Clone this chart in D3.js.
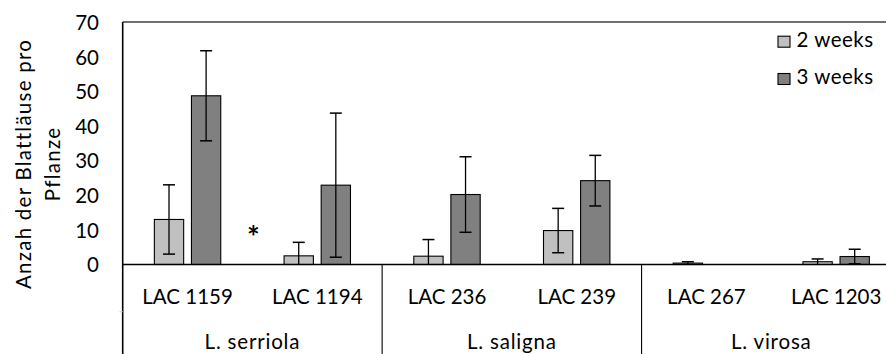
<!DOCTYPE html>
<html>
<head>
<meta charset="utf-8">
<script src="https://cdn.jsdelivr.net/npm/d3@7"></script>
<style>
  html, body { margin: 0; padding: 0; background: #fff; }
  svg { display: block; }
  text { font-family: Lato, "Open Sans", sans-serif; fill: #000; }
</style>
</head>
<body>
<svg id="chart" width="886" height="354"></svg>
<script>
// ---- data ----
const categories = ["LAC 1159", "LAC 1194", "LAC 236", "LAC 239", "LAC 267", "LAC 1203"];
const groups = ["L. serriola", "L. saligna", "L. virosa"];
const groupSizes = [2, 2, 2];
const seriesNames = ["2 weeks", "3 weeks"];
const week2 = [13.0, 2.5, 2.4, 9.8, 0.4, 0.8];
const week2Err = [10.0, 3.9, 4.8, 6.4, 0.4, 0.8];
const week3 = [48.7, 22.9, 20.2, 24.2, 0.0, 2.3];
const week3Err = [13.0, 20.8, 10.9, 7.3, 0.0, 2.1];
const yTicks = [0, 10, 20, 30, 40, 50, 60, 70];
const annotation = { text: "*", between: ["LAC 1159", "LAC 1194"], value: 10 };

// ---- layout ----
const FS = 20.5;
const plotLeft = 122.7, plotRight = 901, plotTop = 22, zeroY = 264.5, plotBottom = 354;
const colors = ["#C0C0C0", "#808080"];

const svg = d3.select("#chart");

const y = d3.scaleLinear().domain([0, 70]).range([zeroY, plotTop]);
const x0 = d3.scaleBand().domain(categories).range([plotLeft, plotRight]).padding(0);
const innerW = 66.4;
const x1 = d3.scaleBand().domain(seriesNames).range([0, innerW]).paddingInner(0.21).paddingOuter(0);

const seriesVals = [week2, week3];
const seriesErr = [week2Err, week3Err];

// frame
svg.append("line").attr("x1", plotLeft).attr("x2", 886).attr("y1", plotTop).attr("y2", plotTop)
  .attr("stroke", "#404040").attr("stroke-width", 1.3);

// bars
seriesNames.forEach((s, si) => {
  const data = categories.map((c, i) => ({ c, v: seriesVals[si][i], e: seriesErr[si][i] }));
  const g = svg.append("g");
  g.selectAll("rect").data(data.filter(d => d.v > 0)).join("rect")
    .attr("x", d => x0(d.c) + x0.bandwidth() / 2 - innerW / 2 + x1(s))
    .attr("width", x1.bandwidth())
    .attr("y", d => y(d.v))
    .attr("height", d => y(0) - y(d.v))
    .attr("fill", colors[si])
    .attr("stroke", "#000").attr("stroke-width", 1.1);
  // error bars
  const eb = g.selectAll("g.eb").data(data.filter(d => d.e > 0)).join("g").attr("class", "eb");
  const cx = d => x0(d.c) + x0.bandwidth() / 2 - innerW / 2 + x1(s) + x1.bandwidth() / 2;
  const lo = d => Math.max(0, d.v - d.e);
  const hi = d => d.v + d.e;
  eb.append("line").attr("x1", cx).attr("x2", cx).attr("y1", d => y(lo(d))).attr("y2", d => y(hi(d)))
    .attr("stroke", "#000").attr("stroke-width", 1.3);
  eb.append("line").attr("x1", d => cx(d) - 6).attr("x2", d => cx(d) + 6)
    .attr("y1", d => y(hi(d))).attr("y2", d => y(hi(d)))
    .attr("stroke", "#000").attr("stroke-width", 1.5);
  eb.filter(d => d.v - d.e > 0).append("line").attr("x1", d => cx(d) - 6).attr("x2", d => cx(d) + 6)
    .attr("y1", d => y(lo(d))).attr("y2", d => y(lo(d)))
    .attr("stroke", "#000").attr("stroke-width", 1.5);
});

// zero axis line
svg.append("line").attr("x1", plotLeft).attr("x2", 886).attr("y1", zeroY).attr("y2", zeroY)
  .attr("stroke", "#000").attr("stroke-width", 1.6);
// left border
svg.append("line").attr("x1", plotLeft).attr("x2", plotLeft).attr("y1", plotTop).attr("y2", plotBottom)
  .attr("stroke", "#000").attr("stroke-width", 1.6);

// y axis tick labels
const yAxis = d3.axisLeft(y).tickValues(yTicks).tickSize(0).tickPadding(0);
const ya = svg.append("g").attr("transform", `translate(99,0)`).call(yAxis);
ya.select(".domain").remove();
ya.selectAll("text").attr("font-size", FS).attr("font-family", "Lato").attr("fill", "#000").attr("dy", "0.36em");

// x category labels
const xAxis = d3.axisBottom(x0).tickSize(0).tickPadding(0);
const xa = svg.append("g").call(xAxis);
xa.select(".domain").remove();
xa.selectAll("text").attr("font-size", FS).attr("font-family", "Lato").attr("fill", "#000")
  .attr("y", 304).attr("dy", 0);

// group dividers and labels
let idx = 0;
groups.forEach((gname, gi) => {
  const first = categories[idx], last = categories[idx + groupSizes[gi] - 1];
  const gx0 = x0(first), gx1 = x0(last) + x0.bandwidth();
  if (gi > 0) {
    svg.append("line").attr("x1", gx0).attr("x2", gx0).attr("y1", zeroY).attr("y2", plotBottom)
      .attr("stroke", "#000").attr("stroke-width", 1.1);
  }
  svg.append("text").attr("x", (gx0 + gx1) / 2).attr("y", 349).attr("text-anchor", "middle")
    .attr("font-size", FS).attr("letter-spacing", 0.8).text(gname);
  idx += groupSizes[gi];
});
// faint multi-level tick
svg.append("line").attr("x1", 119.5).attr("x2", plotLeft).attr("y1", 311.7).attr("y2", 311.7)
  .attr("stroke", "#d0d0d0").attr("stroke-width", 1);

// annotation asterisk
const ax = (x0(annotation.between[0]) + x0.bandwidth() + x0(annotation.between[1])) / 2;
svg.append("text").attr("x", ax + 1).attr("y", y(annotation.value) + 18).attr("text-anchor", "middle")
  .attr("font-size", 30).attr("font-weight", "bold").text(annotation.text);

// y title
const yt = svg.append("text").attr("transform", "translate(0,164) rotate(-90)").attr("text-anchor", "middle")
  .attr("font-size", FS).attr("letter-spacing", 1.25);
yt.append("tspan").attr("x", 0).attr("y", 31).text("Anzah der Blattläuse pro");
yt.append("tspan").attr("x", 0).attr("y", 59.5).text("Pflanze");

// legend
const leg = svg.append("g");
seriesNames.forEach((s, i) => {
  const ly = 46.7 + i * 37.3;
  leg.append("rect").attr("x", 778).attr("y", ly - 10.5).attr("width", 12).attr("height", 11)
    .attr("fill", colors[i]).attr("stroke", "#000").attr("stroke-width", 1.1);
  leg.append("text").attr("x", 796.5).attr("y", ly).attr("font-size", FS).attr("letter-spacing", 0.5).text(s);
});
</script>
</body>
</html>
